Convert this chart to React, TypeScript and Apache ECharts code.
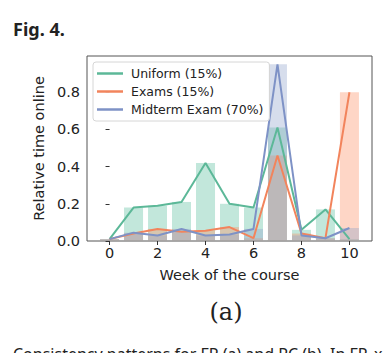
import React, { useEffect, useRef } from "react";
import * as echarts from "echarts";

const weeks = [0, 1, 2, 3, 4, 5, 6, 7, 8, 9, 10];
const uniform = [0.01, 0.18, 0.19, 0.21, 0.42, 0.2, 0.18, 0.61, 0.06, 0.17, 0.01];
const exams = [0.01, 0.04, 0.065, 0.05, 0.055, 0.075, 0.015, 0.46, 0.04, 0.015, 0.8];
const midterm = [0.01, 0.045, 0.03, 0.065, 0.03, 0.035, 0.065, 0.95, 0.03, 0.015, 0.07];
const seriesNames = ["Uniform (15%)", "Exams (15%)", "Midterm Exam (70%)"];
const xTicks = [0, 2, 4, 6, 8, 10];
const yTicks = [0, 0.2, 0.4, 0.6, 0.8];

const lineColors = ["#5cb898", "#f2845c", "#7e92c6"];
const barColors = ["rgba(102,194,165,0.4)", "rgba(252,141,98,0.36)", "rgba(141,160,203,0.36)"];

export default function App() {
  const ref = useRef<HTMLDivElement>(null);
  useEffect(() => {
    document.body.style.margin = "0";
    const chart = echarts.init(ref.current!, null, { renderer: "svg" });
    const all = [uniform, exams, midterm];
    const bars = all.map((vals, i) => ({
      type: "bar",
      name: "bar" + i,
      data: weeks.map((w, j) => [w, vals[j]]),
      barWidth: 19,
      barGap: "-100%",
      itemStyle: { color: barColors[i] },
      z: 2,
      silent: true,
    }));
    const lines = all.map((vals, i) => ({
      type: "line",
      name: seriesNames[i],
      data: weeks.map((w, j) => [w, vals[j]]),
      symbol: "none",
      lineStyle: { color: lineColors[i], width: 2 },
      itemStyle: { color: lineColors[i] },
      z: 3,
    }));
    const axisFont = { fontFamily: "DejaVu Sans", fontSize: 14.5, color: "#222" };
    chart.setOption({
      animation: false,
      grid: {
        left: 87,
        right: 15,
        top: 56,
        bottom: 112,
        show: true,
        borderColor: "#555",
        borderWidth: 1,
        containLabel: false,
      },
      legend: {
        data: seriesNames,
        orient: "vertical",
        left: 93,
        top: 62,
        icon: "rect",
        itemWidth: 26,
        itemHeight: 2.5,
        itemGap: 5,
        padding: [5, 6, 5, 4],
        backgroundColor: "rgba(255,255,255,0.85)",
        borderColor: "#d6d6d6",
        borderWidth: 1,
        borderRadius: 3,
        textStyle: { fontFamily: "DejaVu Sans", fontSize: 12.5, color: "#222", padding: [0, 0, 0, 3] },
      },
      xAxis: {
        type: "value",
        min: -0.94,
        max: 10.94,
        name: "Week of the course",
        nameLocation: "middle",
        nameGap: 26,
        nameTextStyle: axisFont,
        splitLine: { show: false },
        axisLine: { show: false },
        axisTick: { show: true, customValues: xTicks, length: 4, lineStyle: { color: "#333" } },
        axisLabel: { customValues: xTicks, margin: 4, ...axisFont },
      },
      yAxis: {
        type: "value",
        min: 0,
        max: 0.995,
        name: "Relative time online",
        nameLocation: "middle",
        nameGap: 33,
        nameTextStyle: axisFont,
        splitLine: { show: false },
        axisLine: { show: false },
        axisTick: { show: true, customValues: yTicks, length: 4, lineStyle: { color: "#333" } },
        axisLabel: {
          customValues: yTicks,
          margin: 7,
          formatter: (v: number) => v.toFixed(1),
          ...axisFont,
        },
      },
      graphic: [
        {
          type: "text",
          left: 13,
          top: 20,
          style: { text: "Fig. 4.", font: "bold 18px 'Noto Sans'", fill: "#222" },
        },
        {
          type: "text",
          x: 226,
          y: 312,
          style: {
            text: "(a)",
            font: "24px 'DejaVu Serif'",
            fill: "#222",
            textAlign: "center",
            textVerticalAlign: "middle",
          },
        },
        {
          type: "text",
          x: 13,
          y: 346,
          style: {
            text: "Consistency patterns for FP (a) and PC (b). In FP, x",
            font: "16px 'Noto Sans'",
            fill: "#222",
            textVerticalAlign: "top",
          },
        },
      ],
      series: [...bars, ...lines],
    });
    return () => chart.dispose();
  }, []);
  return <div ref={ref} style={{ width: 387, height: 353 }} />;
}
